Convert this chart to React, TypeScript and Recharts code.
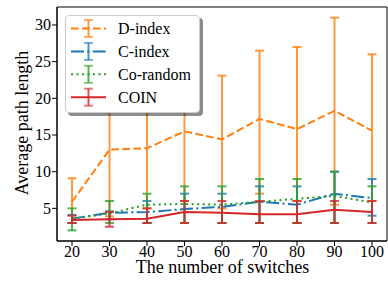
import React from 'react';
import { LineChart, Line, XAxis, YAxis, ErrorBar, ReferenceArea } from 'recharts';

const switches = [20, 30, 40, 50, 60, 70, 80, 90, 100];
const xTicks = [20, 30, 40, 50, 60, 70, 80, 90, 100];
const yTicks = [5, 10, 15, 20, 25, 30];

const dIndexMean = [5.9, 13.0, 13.2, 15.5, 14.4, 17.2, 15.8, 18.3, 15.6];
const dIndexLow = [3.0, 3.9, 5.0, 6.0, 5.0, 7.0, 6.0, 5.5, 6.0];
const dIndexHigh = [9.1, 23.0, 24.0, 25.0, 23.1, 26.5, 27.0, 31.0, 26.0];

const cIndexMean = [3.6, 4.4, 4.5, 4.9, 5.2, 5.9, 5.5, 7.0, 6.4];
const cIndexLow = [3.0, 3.5, 3.0, 3.0, 3.0, 3.0, 3.0, 3.0, 4.0];
const cIndexHigh = [4.1, 4.6, 6.0, 7.0, 7.0, 8.0, 8.0, 10.0, 9.0];

const coRandomMean = [3.6, 4.3, 5.5, 5.6, 5.5, 5.9, 6.3, 6.7, 5.8];
const coRandomLow = [2.0, 3.0, 3.0, 3.0, 3.0, 3.0, 3.0, 3.0, 3.0];
const coRandomHigh = [5.0, 6.0, 7.0, 8.0, 8.0, 9.0, 9.0, 10.0, 8.0];

const coinMean = [3.4, 3.5, 3.6, 4.5, 4.4, 4.2, 4.2, 4.8, 4.5];
const coinLow = [3.0, 2.5, 3.0, 3.0, 3.0, 3.0, 3.0, 3.0, 3.0];
const coinHigh = [4.0, 4.5, 5.0, 6.0, 6.0, 6.0, 6.0, 6.0, 6.0];

const data = switches.map((x, i) => ({
  x,
  d: dIndexMean[i],
  dErr: [dIndexMean[i] - dIndexLow[i], dIndexHigh[i] - dIndexMean[i]],
  c: cIndexMean[i],
  cErr: [cIndexMean[i] - cIndexLow[i], cIndexHigh[i] - cIndexMean[i]],
  r: coRandomMean[i],
  rErr: [coRandomMean[i] - coRandomLow[i], coRandomHigh[i] - coRandomMean[i]],
  n: coinMean[i],
  nErr: [coinMean[i] - coinLow[i], coinHigh[i] - coinMean[i]],
}));

const FONT = "'Liberation Serif', 'Times New Roman', Times, serif";
const ORANGE = '#ff7f0e';
const BLUE = '#1f77b4';
const GREEN = '#2ca02c';
const RED = '#d62728';

const series = [
  { name: 'D-index', color: ORANGE, dash: '7.7 3.3' },
  { name: 'C-index', color: BLUE, dash: '13 3.3 2.1 3.3' },
  { name: 'Co-random', color: GREEN, dash: '2.1 3.4' },
  { name: 'COIN', color: RED, dash: undefined as string | undefined },
];

function XTick(props: any) {
  const { x, y, payload } = props;
  return (
    <text x={x} y={y} dy={11} textAnchor="middle" style={{ fontFamily: FONT, fontSize: 16 }} fill="#000">
      {payload.value}
    </text>
  );
}

function YTick(props: any) {
  const { x, y, payload } = props;
  return (
    <text x={x} y={y} dy={5.4} textAnchor="end" style={{ fontFamily: FONT, fontSize: 16 }} fill="#000">
      {payload.value}
    </text>
  );
}

function LegendBox() {
  return (
    <div
      style={{
        position: 'absolute',
        left: 65,
        top: 15,
        width: 133,
        height: 96,
        background: '#fff',
        border: '1px solid #cccccc',
        borderRadius: 4,
        boxShadow: '3px 3px 0 rgba(0,0,0,0.45)',
      }}
    >
      <svg width={133} height={96} style={{ position: 'absolute', left: 0, top: 0 }}>
        {series.map((s, i) => {
          const cy = 12.5 + i * 22.9;
          return (
            <g key={s.name}>
              <line x1={5} x2={40} y1={cy} y2={cy} stroke={s.color} strokeWidth={2} strokeDasharray={s.dash} />
              <line x1={22.5} x2={22.5} y1={cy - 8.5} y2={cy + 8.5} stroke={s.color} strokeWidth={2} strokeOpacity={0.8} />
              <line x1={18} x2={27} y1={cy - 8.5} y2={cy - 8.5} stroke={s.color} strokeWidth={2} strokeOpacity={0.6} />
              <line x1={18} x2={27} y1={cy + 8.5} y2={cy + 8.5} stroke={s.color} strokeWidth={2} strokeOpacity={0.6} />
              <text x={52} y={cy + 5.5} style={{ fontFamily: FONT, fontSize: 16 }} fill="#000">
                {s.name}
              </text>
            </g>
          );
        })}
      </svg>
    </div>
  );
}

export default function App() {
  return (
    <div style={{ position: 'absolute', left: 0, top: 0, width: 388, height: 282, background: '#fff' }}>
      <LineChart width={388} height={282} data={data} margin={{ top: 7, right: 1, left: 0, bottom: 0 }}>
        <XAxis
          dataKey="x"
          type="number"
          domain={[16, 104]}
          ticks={xTicks}
          height={41}
          tick={<XTick />}
          tickSize={5}
          tickMargin={0}
          axisLine={{ stroke: '#000' }}
          tickLine={{ stroke: '#000' }}
          interval={0}
          label={{
            content: () => (
              <text x={222.5} y={273} textAnchor="middle" style={{ fontFamily: FONT, fontSize: 18 }} fill="#000">
                The number of switches
              </text>
            ),
          }}
        />
        <YAxis
          type="number"
          domain={[0.55, 32.45]}
          ticks={yTicks}
          width={57}
          tick={<YTick />}
          tickSize={5}
          tickMargin={1}
          axisLine={{ stroke: '#000' }}
          tickLine={{ stroke: '#000' }}
          interval={0}
          allowDataOverflow
          label={{
            content: () => (
              <text
                x={28}
                y={123}
                transform="rotate(-90, 28, 123)"
                textAnchor="middle"
                style={{ fontFamily: FONT, fontSize: 18 }}
                fill="#000"
              >
                Average path length
              </text>
            ),
          }}
        />
        <Line dataKey="d" stroke={ORANGE} strokeWidth={2} strokeDasharray="7.7 3.3" dot={false} isAnimationActive={false}>
          <ErrorBar dataKey="dErr" direction="y" width={4.5} stroke={ORANGE} strokeWidth={2} strokeOpacity={0.8} isAnimationActive={false} />
        </Line>
        <Line dataKey="c" stroke={BLUE} strokeWidth={2} strokeDasharray="13 3.3 2.1 3.3" dot={false} isAnimationActive={false}>
          <ErrorBar dataKey="cErr" direction="y" width={4.5} stroke={BLUE} strokeWidth={2} strokeOpacity={0.8} isAnimationActive={false} />
        </Line>
        <Line dataKey="r" stroke={GREEN} strokeWidth={2} strokeDasharray="2.1 3.4" dot={false} isAnimationActive={false}>
          <ErrorBar dataKey="rErr" direction="y" width={4.5} stroke={GREEN} strokeWidth={2} strokeOpacity={0.8} isAnimationActive={false} />
        </Line>
        <Line dataKey="n" stroke={RED} strokeWidth={2} dot={false} isAnimationActive={false}>
          <ErrorBar dataKey="nErr" direction="y" width={4.5} stroke={RED} strokeWidth={2} strokeOpacity={0.8} isAnimationActive={false} />
        </Line>
        <ReferenceArea x1={16} x2={104} y1={0.55} y2={32.45} fill="none" stroke="#000" strokeWidth={1} ifOverflow="visible" />
      </LineChart>
      <LegendBox />
    </div>
  );
}
